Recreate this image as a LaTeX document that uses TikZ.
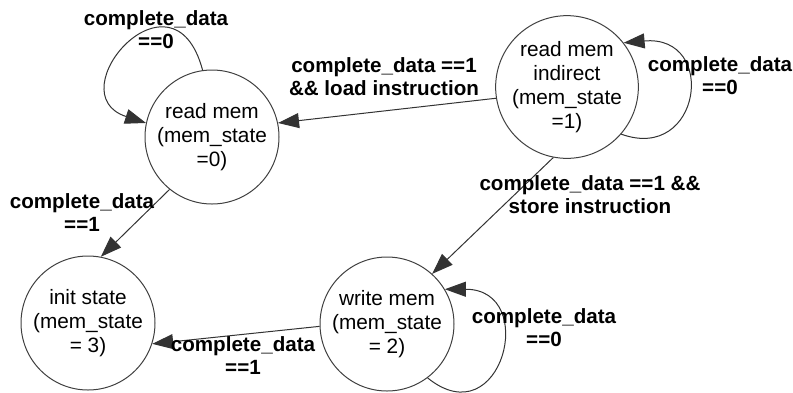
\documentclass[tikz,border=0pt]{standalone}
\usepackage{fontspec}
\setmainfont{Liberation Sans}
\usetikzlibrary{arrows.meta}

\begin{document}
\begin{tikzpicture}[x=1pt, y=1pt,
  state/.style={circle, draw=black!75, line width=1, minimum size=134pt, inner sep=0pt,
    align=center, font=\fontsize{20.8}{24}\selectfont},
  lbl/.style={align=center, font=\fontsize{20.6}{23}\selectfont\bfseries},
  trans/.style={draw=black!80, line width=1, -{Triangle[length=21pt, width=15pt]}}]

 \useasboundingbox (0,0) rectangle (793,-392);

 %%%%%%%%%% Etats %%%%%%%%%%
 \node[state] (readmem) at (212,-137) {read mem\\(mem\_state\\=0)};
 \node[state] (indirect) at (567,-87) {read mem\\indirect\\(mem\_state\\=1)};
 \node[state] (writemem) at (387,-324) {write mem\\(mem\_state\\= 2)};
 \node[state] (init) at (88,-323) {init state\\(mem\_state\\= 3)};

 %%%%%%%%%% Transitions %%%%%%%%%%
 \draw[trans] (indirect.189) -- (readmem.12);
 \draw[trans] (indirect.259) -- (writemem.48);
 \draw[trans] (readmem.231) -- (init.79);
 \draw[trans] (writemem.182) -- (init.342);

 % boucles
 \draw[trans] (readmem.98) .. controls +(105:115) and +(162:95) .. (readmem.168);
 \draw[trans] (indirect.319) .. controls +(-20:85) and +(5:95) .. (indirect.38);
 \draw[trans] (writemem.307) .. controls +(-39:95) and +(0:95) .. (writemem.31);

 %%%%%%%%%% Conditions %%%%%%%%%%
 \node[lbl] (rmloop) at (156,-30) {complete\_data\\==0};
 \node[lbl] (load) at (384,-77) {complete\_data ==1\\\&\& load instruction};
 \node[lbl] (riloop) at (720,-76) {complete\_data\\==0};
 \node[lbl] (store) at (590,-195) {complete\_data ==1 \&\&\\store instruction};
 \node[lbl] (toinit) at (82,-213) {complete\_data\\==1};
 \node[lbl] (wminit) at (243,-356) {complete\_data\\==1};
 \node[lbl] (wmloop) at (544,-328) {complete\_data\\==0};

\end{tikzpicture}
\end{document}
